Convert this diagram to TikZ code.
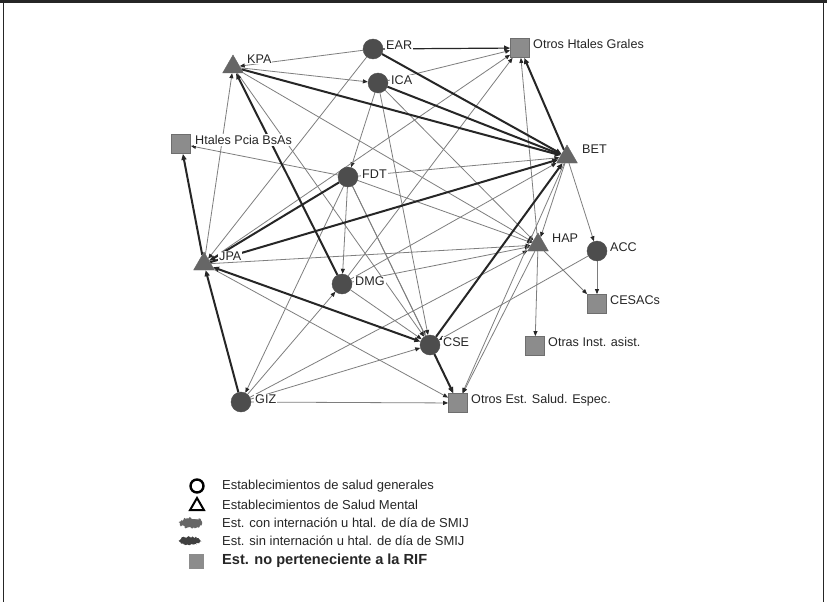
\documentclass[tikz,border=0pt]{standalone}
\usepackage{fontspec}
\setmainfont{Liberation Sans}
\usetikzlibrary{arrows.meta,shapes.geometric,decorations.pathmorphing}
\definecolor{circ}{HTML}{4D4D4D}
\definecolor{tri}{HTML}{666666}
\definecolor{sqf}{HTML}{8C8C8C}
\definecolor{sqd}{HTML}{6E6E6E}
\definecolor{weak}{HTML}{7E7E7E}
\definecolor{heavy}{HTML}{262626}
\pgfdeclarelayer{edges}
\pgfsetlayers{edges,main}
\begin{document}
\begin{tikzpicture}[x=1pt,y=-1pt,
  hub/.style={circle,fill=circ,draw=circ,minimum size=20pt,inner sep=0pt},
  mh/.style={regular polygon,regular polygon sides=3,fill=tri,draw=tri,minimum size=24pt,inner sep=0pt},
  ext/.style={rectangle,fill=sqf,draw=sqd,line width=0.8pt,minimum size=19pt,inner sep=0pt},
  lbl/.style={anchor=west,font=\fontsize{12.6}{13}\selectfont,inner sep=1pt,fill=white,text=black!85},
  leg/.style={anchor=west,font=\fontsize{13}{14}\selectfont,inner sep=0pt,text=black!85},
  weakln/.style={draw=weak,line width=0.8pt,-{Triangle[length=5pt,width=4pt,color=black!85]}},
  heavyln/.style={draw=heavy,line width=2pt,-{Triangle[length=6pt,width=5pt]}},
]
\useasboundingbox (0,0) rectangle (827,602);

% page frame
\draw[heavy,line width=2.5pt] (0,1.3) -- (827,1.3);
\draw[heavy,line width=1pt] (3.5,0) -- (3.5,602);
\draw[heavy,line width=1pt] (823.5,0) -- (823.5,602);

% general health establishments
\node[hub] (EAR) at (373,49) {};
\node[hub] (ICA) at (378,83) {};
\node[hub] (FDT) at (348,177) {};
\node[hub] (DMG) at (342,284) {};
\node[hub] (CSE) at (430,345) {};
\node[hub] (GIZ) at (241,402) {};
\node[hub] (ACC) at (597,251) {};
% mental health establishments
\node[mh] (KPA) at (233,67) {};
\node[mh] (BET) at (567,157) {};
\node[mh] (JPA) at (204,264) {};
\node[mh] (HAP) at (538,245) {};
% establishments outside the network
\node[ext] (OHG) at (520,48) {};
\node[ext] (HPB) at (181,144) {};
\node[ext] (CES) at (597,304) {};
\node[ext] (OIA) at (535,346) {};
\node[ext] (OES) at (458,403) {};

% labels
\node[lbl] (tEAR) at (385,45) {EAR};
\node[lbl] (tICA) at (390,80) {ICA};
\node[lbl] (tKPA) at (246,59) {KPA};
\node[lbl] (tOHG) at (532,44) {Otros Htales Grales};
\node[lbl] (tHPB) at (194,140) {Htales Pcia BsAs};
\node[lbl] (tFDT) at (361,174) {FDT};
\node[lbl] (tBET) at (581,149) {BET};
\node[lbl] (tJPA) at (218,256) {JPA};
\node[lbl] (tHAP) at (551,238) {HAP};
\node[lbl] (tACC) at (609,247) {ACC};
\node[lbl] (tDMG) at (354,281) {DMG};
\node[lbl] (tCES) at (609,300) {CESACs};
\node[lbl] (tCSE) at (442,342) {CSE};
\node[lbl] (tOIA) at (547,342) {Otras Inst. asist.};
\node[lbl] (tGIZ) at (254,399) {GIZ};
\node[lbl] (tOES) at (470,400) {Otros Est. Salud. Espec.};

\begin{pgfonlayer}{edges}
\fill[white] (4,3) rectangle (823,602);
% weak ties
\foreach \a/\b in {EAR/KPA, KPA/ICA, JPA/KPA, KPA/CSE, KPA/HAP, FDT/HPB,
  ICA/FDT, FDT/DMG, FDT/CSE, FDT/OES, FDT/BET, FDT/HAP, FDT/GIZ,
  ICA/CSE, ICA/HAP, ICA/OHG, EAR/JPA, JPA/OHG, JPA/HAP, JPA/OES,
  DMG/OHG, DMG/BET, DMG/HAP, DMG/CSE, GIZ/DMG, GIZ/CSE, GIZ/OES, GIZ/HAP,
  BET/HAP, BET/ACC, BET/OES, HAP/OIA, HAP/CES, HAP/OES, HAP/OHG,
  ACC/CES, ACC/CSE}
  \draw[weakln] (\a) -- (\b);
% strong ties
\foreach \a/\b in {EAR/BET, ICA/BET, KPA/BET, DMG/KPA, BET/OHG, CSE/BET,
  FDT/JPA, JPA/BET, JPA/HPB, GIZ/JPA, CSE/OES}
  \draw[heavyln] (\a) -- (\b);
\draw[heavyln,{Triangle[length=6pt,width=5pt]}-{Triangle[length=6pt,width=5pt]}] (JPA) -- (CSE);
\draw[heavyln,line width=1.2pt] (EAR) -- (OHG);
\end{pgfonlayer}

% legend
\node[circle,draw=black,line width=2.4pt,minimum size=13pt,inner sep=0pt] (k1) at (197,486) {};
\node[leg] (l1) at (222,486) {Establecimientos de salud generales};
\node[regular polygon,regular polygon sides=3,draw=black,line width=2pt,minimum size=16pt,inner sep=0pt] (k2) at (197,506) {};
\node[leg] (l2) at (222,505) {Establecimientos de Salud Mental};
\fill[black!60,decorate,decoration={random steps,segment length=1.2pt,amplitude=1.2pt}] (191,523) ellipse (11pt and 5pt);
\node[leg] (l3) at (222,523) {Est. con internación u htal. de día de SMIJ};
\fill[black!75,decorate,decoration={random steps,segment length=1.2pt,amplitude=1.2pt}] (190,541) ellipse (11pt and 4pt);
\node[leg] (l4) at (222,541) {Est. sin internación u htal. de día de SMIJ};
\node[rectangle,fill=sqf,minimum size=15pt,inner sep=0pt] (k5) at (196,561) {};
\node[leg,font=\fontsize{14.6}{15}\selectfont\bfseries] (l5) at (222,561) {Est. no perteneciente a la RIF};
\end{tikzpicture}
\end{document}
